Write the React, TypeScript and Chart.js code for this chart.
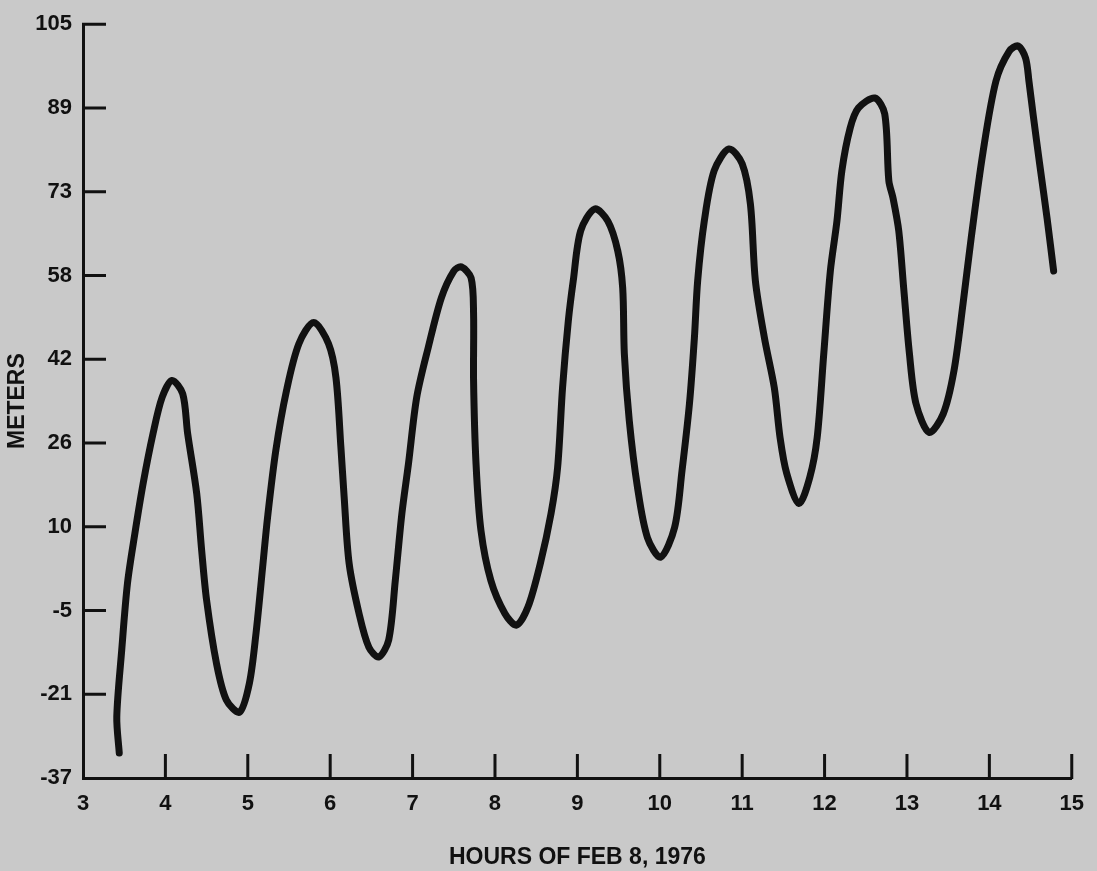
import React, { useEffect, useRef } from "react";
import { Chart, registerables } from "chart.js";

Chart.register(...registerables);

const hours: number[] = [
  3.44, 3.41, 3.47, 3.54, 3.63, 3.73, 3.85, 3.96, 4.08, 4.21, 4.27, 4.38, 4.44, 4.5, 4.62, 4.74, 4.9,
  5.02, 5.1, 5.18, 5.24, 5.34, 5.47, 5.62, 5.8, 5.98, 6.07, 6.13, 6.17, 6.23, 6.35, 6.47, 6.59, 6.71,
  6.79, 6.87, 6.95, 7.05, 7.19, 7.35, 7.5, 7.59, 7.71, 7.74, 7.74, 7.77, 7.83, 7.95, 8.12, 8.26, 8.4,
  8.55, 8.68, 8.76, 8.82, 8.89, 8.95, 9.04, 9.21, 9.37, 9.49, 9.55, 9.57, 9.63, 9.73, 9.85, 10.01,
  10.18, 10.27, 10.36, 10.42, 10.46, 10.54, 10.66, 10.84, 11.0, 11.1, 11.16, 11.27, 11.39, 11.46,
  11.54, 11.69, 11.82, 11.91, 11.99, 12.07, 12.15, 12.21, 12.31, 12.41, 12.61, 12.73, 12.78, 12.83,
  12.9, 12.96, 13.03, 13.11, 13.27, 13.44, 13.57, 13.68, 13.78, 13.92, 14.08, 14.24, 14.35, 14.44,
  14.48, 14.53, 14.61, 14.7, 14.78,
];

const meters: number[] = [
  -32.3, -25.5, -12.9, -0.3, 9.1, 18.5, 27.9, 34.7, 37.9, 35.4, 27.9, 16.6, 5.9, -3.5, -15.4, -22.3, -24.6,
  -19.1, -9.7, 2.7, 12.1, 24.7, 36.0, 44.8, 48.8, 44.8, 38.4, 25.3, 15.8, 3.4, -6.0, -12.4, -14.2, -11.0,
  0.2, 12.8, 22.2, 34.7, 44.1, 53.5, 58.5, 59.3, 57.2, 50.5, 37.9, 22.2, 9.6, 0.2, -6.0, -8.2, -4.8,
  3.4, 12.8, 21.5, 36.5, 49.1, 56.7, 66.1, 70.2, 67.9, 62.3, 55.3, 42.9, 30.3, 17.7, 8.3, 4.6,
  10.2, 20.9, 33.5, 45.9, 56.7, 67.9, 77.4, 81.5, 78.7, 71.1, 56.7, 45.9, 36.5, 27.1,
  20.4, 14.7, 19.6, 27.1, 42.9, 58.5, 67.9, 77.4, 85.4, 89.2, 91.1, 88.1, 75.5, 72.3,
  66.1, 55.3, 42.9, 33.5, 28.1, 31.6, 39.7, 52.3, 64.8, 80.6, 94.3, 99.9, 100.9, 98.6,
  94.3, 88.1, 78.7, 68.5, 58.5,
];

const yTickLabels: string[] = ["-37", "-21", "-5", "10", "26", "42", "58", "73", "89", "105"];
const X_MIN = 3;
const X_MAX = 15;
const Y_MIN = -37;
const Y_MAX = 105;

const INK = "#111111";

const innerTicks = {
  id: "innerTicks",
  afterDraw(chart: any) {
    const { ctx, chartArea, scales } = chart;
    const x = scales.x;
    const y = scales.y;
    ctx.save();
    ctx.strokeStyle = INK;
    ctx.lineWidth = 3;
    ctx.lineCap = "butt";
    ctx.beginPath();
    x.ticks.forEach((t: any) => {
      if (t.value === X_MIN) return;
      const px = x.getPixelForValue(t.value);
      ctx.moveTo(px, chartArea.bottom + 1);
      ctx.lineTo(px, chartArea.bottom - 24);
    });
    y.ticks.forEach((t: any) => {
      if (t.value === Y_MIN) return;
      const py = y.getPixelForValue(t.value);
      ctx.moveTo(chartArea.left - 1, py);
      ctx.lineTo(chartArea.left + 23, py);
    });
    ctx.stroke();
    ctx.restore();
  },
};

export default function App() {
  const canvasRef = useRef<HTMLCanvasElement | null>(null);

  useEffect(() => {
    document.body.style.margin = "0";
    const canvas = canvasRef.current;
    if (!canvas) return;
    const fontFamily = "'Liberation Sans', Arial, Helvetica, sans-serif";
    const chart = new Chart(canvas, {
      type: "line",
      data: {
        datasets: [
          {
            data: hours.map((h, i) => ({ x: h, y: meters[i] })),
            borderColor: INK,
            borderWidth: 7,
            pointRadius: 0,
            tension: 0.3,
            borderCapStyle: "round",
            borderJoinStyle: "round",
            fill: false,
          },
        ],
      },
      options: {
        animation: false,
        responsive: false,
        maintainAspectRatio: false,
        layout: { padding: { top: 23, right: 21, left: 0, bottom: 0 } },
        plugins: {
          legend: { display: false },
          tooltip: { enabled: false },
        },
        scales: {
          x: {
            type: "linear",
            min: X_MIN,
            max: X_MAX,
            afterFit: (scale: any) => {
              scale.height = 93;
            },
            ticks: {
              stepSize: 1,
              color: INK,
              padding: 13,
              font: { family: fontFamily, size: 22, weight: "bold" },
              maxRotation: 0,
              autoSkip: false,
            },
            grid: { display: false, drawTicks: false },
            border: { display: true, color: INK, width: 3 },
            title: {
              display: true,
              text: "HOURS OF FEB 8, 1976",
              color: INK,
              font: { family: fontFamily, size: 23, weight: "bold" },
              padding: { top: 0, bottom: 0 },
            },
          },
          y: {
            type: "linear",
            min: Y_MIN,
            max: Y_MAX,
            afterFit: (scale: any) => {
              scale.width = 83;
            },
            afterBuildTicks: (scale: any) => {
              const n = yTickLabels.length;
              scale.ticks = yTickLabels.map((_, i) => ({
                value: Y_MIN + (i * (Y_MAX - Y_MIN)) / (n - 1),
              }));
            },
            ticks: {
              color: INK,
              padding: 11,
              font: { family: fontFamily, size: 22, weight: "bold" },
              callback: (_v: any, i: number) => yTickLabels[i],
            },
            grid: { display: false, drawTicks: false },
            border: { display: true, color: INK, width: 3 },
            title: {
              display: true,
              text: "METERS",
              color: INK,
              font: { family: fontFamily, size: 23, weight: "bold" },
              padding: { top: 4, bottom: 0 },
            },
          },
        },
      },
      plugins: [innerTicks],
    });
    return () => chart.destroy();
  }, []);

  return (
    <div
      style={{
        position: "absolute",
        left: 0,
        top: 0,
        width: 1097,
        height: 871,
        background: "#c9c9c9",
      }}
    >
      <canvas ref={canvasRef} width={1097} height={871} />
    </div>
  );
}
